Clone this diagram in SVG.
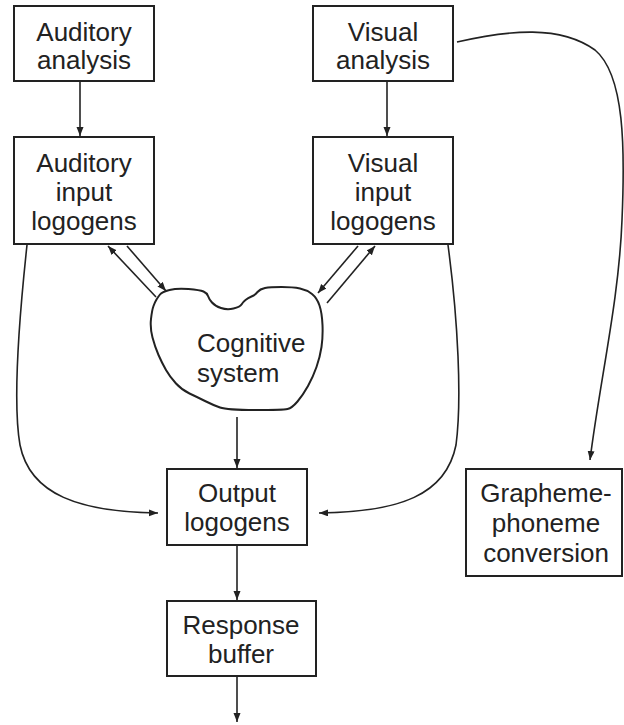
<svg xmlns="http://www.w3.org/2000/svg" width="624" height="725" viewBox="0 0 624 725">
  <style>
    .box { fill: #fff; stroke: #222; stroke-width: 2; }
    .blob { fill: #fff; stroke: #222; stroke-width: 2; stroke-linejoin: round; }
    .lbl { font-family: "Liberation Sans", Arial, sans-serif; font-size: 26px; fill: #222; text-anchor: middle; }
    .lbl-left { text-anchor: start; }
    .wire { fill: none; stroke: #222; stroke-width: 1.6; }
  </style>
  <defs>
    <marker id="head" markerUnits="userSpaceOnUse" markerWidth="10" markerHeight="8" refX="9" refY="3.5" orient="auto">
      <path d="M0,0 L9,3.5 L0,7 z" fill="#222"/>
    </marker>
  </defs>

  <rect width="624" height="725" fill="#fff"/>

  <!-- connectors -->
  <g id="connectors">
    <line class="wire" x1="80" y1="81" x2="80" y2="136" marker-end="url(#head)"/>
    <line class="wire" x1="387" y1="81" x2="387" y2="136" marker-end="url(#head)"/>
    <!-- auditory input <-> cognitive system -->
    <line class="wire" x1="156" y1="297" x2="108" y2="246" marker-end="url(#head)"/>
    <line class="wire" x1="127" y1="246" x2="166" y2="291" marker-end="url(#head)"/>
    <!-- visual input <-> cognitive system -->
    <line class="wire" x1="327" y1="303" x2="375" y2="246" marker-end="url(#head)"/>
    <line class="wire" x1="358" y1="246" x2="318" y2="293" marker-end="url(#head)"/>
    <!-- cognitive system -> output -->
    <line class="wire" x1="237" y1="417" x2="237" y2="468" marker-end="url(#head)"/>
    <!-- output -> response buffer -> out -->
    <line class="wire" x1="237" y1="545" x2="237" y2="600" marker-end="url(#head)"/>
    <line class="wire" x1="237" y1="676" x2="237" y2="722" marker-end="url(#head)"/>
    <!-- direct routes into output logogens -->
    <path class="wire" d="M27,245 C20,310 12,400 20,445 C30,495 80,512 158,513" marker-end="url(#head)"/>
    <path class="wire" d="M448,245 C458,320 462,400 456,445 C446,495 400,512 319,513" marker-end="url(#head)"/>
    <!-- visual analysis -> grapheme-phoneme conversion -->
    <path class="wire" d="M457,42 C510,30 560,25 595,50 C625,75 625,150 622,220 C619,300 600,380 590,460" marker-end="url(#head)"/>
  </g>

  <g id="auditory-analysis">
    <rect class="box" x="14" y="6" width="140" height="75"/>
    <text class="lbl" x="84" y="41">Auditory</text>
    <text class="lbl" x="84" y="69">analysis</text>
  </g>

  <g id="visual-analysis">
    <rect class="box" x="313" y="6" width="140" height="75"/>
    <text class="lbl" x="383" y="41">Visual</text>
    <text class="lbl" x="383" y="69">analysis</text>
  </g>

  <g id="auditory-input-logogens">
    <rect class="box" x="14" y="137" width="140" height="107"/>
    <text class="lbl" x="84" y="172">Auditory</text>
    <text class="lbl" x="84" y="201">input</text>
    <text class="lbl" x="84" y="230">logogens</text>
  </g>

  <g id="visual-input-logogens">
    <rect class="box" x="313" y="137" width="140" height="107"/>
    <text class="lbl" x="383" y="172">Visual</text>
    <text class="lbl" x="383" y="201">input</text>
    <text class="lbl" x="383" y="230">logogens</text>
  </g>

  <g id="cognitive-system">
    <path class="blob" d="M160,294.5 Q162,292 169.5,290 Q177,288 188.5,289 Q200,290 203.5,291.5 Q207,293 208,296 Q209,299 212,302.5 Q215,306 221,308 Q227,310 233.5,308.5 Q240,307 241.5,304.5 Q243,302 245.5,300 Q248,298 251.5,296.5 Q255,295 257.5,292 Q260,289 265,288 Q270,287 281.5,287 Q293,287 300,288.5 Q307,290 312,294 Q317,298 319.5,305.5 Q322,313 322.5,325 Q323,337 321.5,347 Q320,357 316.5,367 Q313,377 308,386 Q303,395 297.5,401.5 Q292,408 287.5,409 Q283,410 255,410 Q227,410 220,407.5 Q213,405 205,401 Q197,397 189.5,393.5 Q182,390 176,383.5 Q170,377 166,370 Q162,363 158.5,355 Q155,347 152.5,337.5 Q150,328 151,319 Q152,310 153.5,306 Q155,302 156.5,299.5 Q158,297 160,294.5 Z"/>
    <text class="lbl lbl-left" x="197" y="352">Cognitive</text>
    <text class="lbl lbl-left" x="197" y="382">system</text>
  </g>

  <g id="output-logogens">
    <rect class="box" x="167" y="469" width="140" height="76"/>
    <text class="lbl" x="237" y="502">Output</text>
    <text class="lbl" x="237" y="531">logogens</text>
  </g>

  <g id="response-buffer">
    <rect class="box" x="167" y="601" width="149" height="75"/>
    <text class="lbl" x="241" y="634">Response</text>
    <text class="lbl" x="241" y="663">buffer</text>
  </g>

  <g id="grapheme-phoneme-conversion">
    <rect class="box" x="466" y="469" width="156" height="107"/>
    <text class="lbl" x="546" y="502">Grapheme-</text>
    <text class="lbl" x="546" y="532">phoneme</text>
    <text class="lbl" x="546" y="562">conversion</text>
  </g>
</svg>
